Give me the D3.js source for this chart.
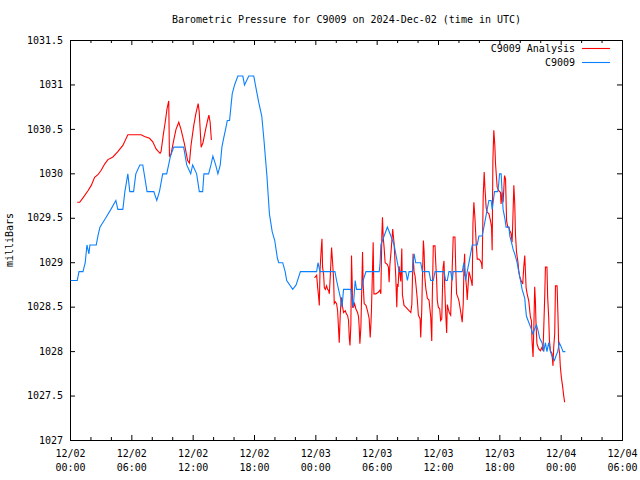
<!DOCTYPE html>
<html><head><meta charset="utf-8">
<script src="https://cdn.jsdelivr.net/npm/d3@7"></script>
<style>
body{margin:0;background:#fff}
svg{display:block}
text{font-family:"DejaVu Sans Mono",monospace;font-size:10px;fill:#000}
</style>
</head><body><svg id="c" width="640" height="480"></svg>
<script>
const chartTitle = "Barometric Pressure for C9009 on 2024-Dec-02 (time in UTC)";
const yAxisLabel = "milliBars";
const seriesNames = ["C9009 Analysis", "C9009"];
const seriesColors = ["#ff0000", "#0a80ff"];
const startTime = Date.UTC(2024, 11, 2, 0, 0);
const xHoursDomain = [0, 54];
const majorTickHours = [0, 6, 12, 18, 24, 30, 36, 42, 48, 54];
const yTickValues = [1027, 1027.5, 1028, 1028.5, 1029, 1029.5, 1030, 1030.5, 1031, 1031.5];

// [hours since 12/02 00:00 UTC, millibars]
const observed = [
[0,1028.8],[0.66,1028.8],[0.83,1028.9],[1.22,1028.9],[1.44,1029.0],[1.61,1029.2],[1.80,1029.1],[1.90,1029.2],
[2.52,1029.2],[2.68,1029.3],[2.88,1029.4],[3.43,1029.5],[3.95,1029.6],[4.44,1029.7],[4.63,1029.6],[5.12,1029.6],
[5.32,1029.8],[5.61,1030.0],[5.80,1029.8],[6.17,1029.8],[6.39,1030.0],[6.78,1030.1],[7.07,1030.1],[7.49,1029.8],
[8.15,1029.8],[8.44,1029.7],[8.70,1029.8],[9.02,1030.0],[9.41,1030.0],[9.78,1030.2],[10.10,1030.3],[11.07,1030.3],
[11.37,1030.1],[11.76,1030.0],[11.95,1030.1],[12.34,1030.0],[12.60,1029.8],[12.93,1029.8],[13.05,1030.0],[13.51,1030.0],
[13.74,1030.1],[13.93,1030.2],[14.20,1030.1],[14.42,1030.0],[14.65,1030.1],[14.81,1030.3],[14.98,1030.4],[15.17,1030.5],
[15.34,1030.6],[15.56,1030.6],[15.69,1030.75],[15.82,1030.9],[16.05,1031.0],[16.37,1031.1],[16.86,1031.1],[17.02,1031.0],
[17.44,1031.1],[17.93,1031.1],[18.17,1030.95],[18.42,1030.8],[18.71,1030.65],[18.91,1030.4],[19.20,1030.0],[19.46,1029.55],
[19.73,1029.35],[19.98,1029.25],[20.24,1029.05],[20.37,1029.0],[20.76,1029.0],[21.00,1028.9],[21.15,1028.8],[21.74,1028.7],
[22.07,1028.75],[22.49,1028.9],[24.08,1028.9],[24.21,1029.0],[24.41,1028.9],[25.87,1028.9],[26.03,1028.8],[26.22,1028.7],
[26.42,1028.6],[26.56,1028.5],[26.71,1028.7],[27.43,1028.7],[27.53,1028.6],[27.66,1028.5],[27.85,1028.8],[27.98,1028.7],
[28.47,1028.7],[28.63,1028.8],[28.90,1028.9],[30.20,1028.9],[30.29,1029.0],[30.36,1029.2],[30.68,1029.3],[31.00,1029.4],
[31.34,1029.3],[31.66,1029.2],[31.82,1029.1],[31.98,1029.0],[32.15,1028.9],[32.80,1028.9],[32.96,1028.8],[33.12,1028.9],
[33.44,1028.9],[33.61,1029.1],[33.77,1029.0],[33.93,1029.0],[34.26,1029.0],[34.42,1028.9],[35.07,1028.9],[35.24,1028.8],
[35.49,1028.8],[35.66,1028.9],[36.54,1028.9],[36.70,1028.8],[36.86,1028.8],[37.02,1028.9],[37.19,1028.9],[37.35,1028.8],
[37.44,1028.9],[38.32,1028.9],[38.49,1029.0],[38.59,1028.9],[38.65,1028.8],[38.81,1028.9],[38.98,1029.0],[39.14,1029.1],
[39.30,1029.2],[39.79,1029.2],[39.95,1029.3],[40.27,1029.3],[40.44,1029.4],[40.60,1029.5],[40.76,1029.6],[40.93,1029.7],
[41.15,1029.7],[41.25,1029.6],[41.37,1029.7],[41.48,1029.8],[41.80,1029.8],[41.90,1029.9],[41.97,1030.0],[42.13,1030.0],
[42.22,1029.8],[42.32,1029.6],[42.49,1029.5],[42.61,1029.4],[42.88,1029.4],[42.98,1029.3],[43.20,1029.2],[43.30,1029.15],
[43.46,1029.1],[43.69,1029.0],[43.85,1028.9],[44.02,1028.8],[44.18,1028.7],[44.44,1028.6],[44.51,1028.5],[44.60,1028.4],
[44.76,1028.35],[44.93,1028.3],[45.09,1028.25],[45.22,1028.2],[45.39,1028.25],[45.58,1028.3],[45.71,1028.25],[45.90,1028.15],
[46.13,1028.1],[46.29,1028.0],[46.46,1028.1],[46.61,1028.0],[46.78,1028.1],[46.95,1028.0],[47.10,1027.95],[47.34,1027.9],
[47.49,1027.95],[47.66,1028.0],[47.82,1028.1],[48.02,1028.05],[48.18,1028.0],[48.41,1028.0]
];

const analysisDay1 = [
[0.66,1029.68],[0.90,1029.68],[1.22,1029.73],[1.71,1029.81],[2.03,1029.87],[2.36,1029.96],[2.68,1029.99],[3.00,1030.04],
[3.34,1030.11],[3.66,1030.16],[4.15,1030.19],[4.63,1030.25],[5.12,1030.32],[5.61,1030.44],[6.91,1030.44],[7.24,1030.42],
[7.73,1030.40],[8.05,1030.36],[8.37,1030.28],[8.76,1030.23],[8.86,1030.25],[9.09,1030.45],[9.29,1030.60],[9.44,1030.73],
[9.61,1030.82],[9.68,1030.20],[9.83,1030.22],[10.10,1030.38],[10.32,1030.50],[10.59,1030.58],[10.81,1030.50],[11.14,1030.34],
[11.46,1030.15],[11.63,1030.12],[11.79,1030.32],[12.05,1030.54],[12.27,1030.68],[12.49,1030.79],[12.59,1030.70],[12.78,1030.30],
[12.96,1030.35],[13.22,1030.50],[13.41,1030.60],[13.54,1030.66],[13.66,1030.58],[13.78,1030.38]
];

const analysisDay2 = [
[23.88,1028.83],[24.08,1028.86],[24.18,1028.72],[24.27,1028.62],[24.34,1028.52],[24.41,1028.92],[24.50,1029.10],[24.60,1029.27],
[24.66,1028.95],[24.76,1028.87],[24.83,1028.72],[24.93,1028.70],[25.05,1028.74],[25.15,1028.70],[25.25,1028.69],[25.32,1028.65],
[25.41,1028.84],[25.48,1029.02],[25.54,1029.17],[25.64,1029.00],[25.74,1028.82],[25.80,1028.54],[25.90,1028.56],[26.03,1028.54],
[26.13,1028.46],[26.22,1028.26],[26.29,1028.10],[26.39,1028.42],[26.49,1028.61],[26.56,1028.57],[26.61,1028.51],[26.71,1028.44],
[26.88,1028.46],[27.00,1028.42],[27.10,1028.41],[27.20,1028.35],[27.27,1028.16],[27.34,1028.07],[27.43,1028.31],[27.49,1029.08],
[27.56,1028.76],[27.59,1028.50],[27.69,1028.50],[27.79,1028.54],[27.92,1028.48],[28.08,1028.44],[28.18,1028.39],[28.24,1028.28],
[28.31,1028.09],[28.41,1028.28],[28.51,1028.80],[28.57,1029.12],[28.63,1028.76],[28.73,1028.54],[28.90,1028.52],[29.05,1028.46],
[29.22,1028.37],[29.32,1028.16],[29.39,1028.31],[29.44,1028.46],[29.54,1028.91],[29.61,1029.23],[29.68,1028.65],[29.87,1028.65],
[30.13,1028.67],[30.26,1028.69],[30.36,1028.65],[30.46,1029.32],[30.52,1029.51],[30.59,1029.29],[30.68,1029.17],[30.78,1029.00],
[31.00,1028.98],[31.10,1028.95],[31.17,1028.78],[31.24,1028.97],[31.34,1029.10],[31.44,1029.25],[31.52,1029.38],[31.66,1029.21],
[31.82,1028.84],[31.92,1028.50],[31.98,1028.75],[32.05,1028.74],[32.15,1028.96],[32.31,1028.79],[32.41,1029.16],[32.47,1028.64],
[32.63,1028.52],[32.80,1028.50],[32.96,1028.48],[33.12,1028.46],[33.29,1028.44],[33.39,1028.53],[33.44,1028.76],[33.51,1029.10],
[33.61,1028.90],[33.71,1028.85],[33.77,1028.78],[33.87,1028.66],[33.93,1028.58],[34.03,1028.41],[34.20,1028.37],[34.26,1028.16],
[34.36,1028.46],[34.42,1028.80],[34.52,1029.25],[34.59,1029.13],[34.66,1028.84],[34.76,1028.71],[34.91,1028.60],[35.07,1028.58],
[35.24,1028.39],[35.34,1028.12],[35.39,1028.58],[35.49,1029.19],[35.66,1029.19],[35.72,1029.02],[35.82,1028.80],[35.88,1028.58],
[35.98,1028.50],[36.12,1028.48],[36.21,1028.35],[36.32,1028.37],[36.44,1028.94],[36.54,1029.02],[36.60,1028.76],[36.70,1028.44],
[36.80,1028.21],[36.86,1028.53],[36.96,1028.48],[37.05,1028.44],[37.19,1028.41],[37.35,1028.97],[37.44,1029.29],[37.61,1029.29],
[37.68,1028.97],[37.77,1028.65],[37.90,1028.61],[38.00,1028.57],[38.10,1028.50],[38.22,1028.41],[38.32,1028.33],[38.42,1028.54],
[38.49,1028.95],[38.56,1029.10],[38.59,1028.86],[38.65,1028.84],[38.75,1028.71],[38.81,1028.58],[38.98,1028.90],[39.07,1028.86],
[39.20,1028.80],[39.30,1028.74],[39.37,1029.44],[39.46,1029.68],[39.56,1029.51],[39.69,1029.21],[39.79,1029.04],[39.95,1029.04],
[40.11,1029.02],[40.21,1028.99],[40.27,1028.93],[40.37,1029.74],[40.47,1030.02],[40.54,1029.85],[40.66,1029.62],[40.76,1029.57],
[40.93,1029.55],[41.09,1029.47],[41.19,1029.40],[41.25,1029.14],[41.32,1030.15],[41.41,1030.49],[41.51,1030.32],[41.58,1030.11],
[41.74,1029.85],[41.90,1029.81],[42.07,1029.79],[42.12,1029.66],[42.22,1029.79],[42.32,1029.68],[42.46,1029.98],[42.56,1029.94],
[42.66,1029.47],[42.78,1029.40],[42.88,1029.40],[42.98,1029.36],[43.10,1029.33],[43.20,1029.23],[43.27,1029.47],[43.37,1029.87],
[43.46,1029.66],[43.53,1029.32],[43.63,1029.12],[43.76,1029.02],[43.85,1028.91],[43.95,1028.84],[44.08,1028.80],[44.24,1028.76],
[44.34,1028.95],[44.44,1029.08],[44.50,1028.91],[44.57,1028.72],[44.67,1028.65],[44.83,1028.57],[44.99,1028.39],[45.09,1028.35],
[45.15,1028.12],[45.25,1027.94],[45.32,1028.24],[45.41,1028.73],[45.48,1028.57],[45.54,1028.31],[45.63,1028.09],[45.80,1028.03],
[45.97,1028.01],[46.13,1028.05],[46.22,1028.01],[46.29,1028.24],[46.39,1028.61],[46.46,1028.95],[46.61,1028.95],[46.68,1028.61],
[46.78,1028.39],[46.85,1028.13],[46.95,1028.01],[47.10,1027.98],[47.20,1027.84],[47.27,1028.05],[47.37,1028.20],[47.44,1028.74],
[47.60,1028.74],[47.70,1028.35],[47.76,1028.05],[47.85,1027.98],[47.92,1027.83],[48.02,1027.71],[48.15,1027.60],[48.24,1027.51],
[48.34,1027.43]
];

const svg = d3.select("#c");
const L = 70, R = 622, T = 40, B = 440;
const hourMs = 3600e3;
const toDate = h => new Date(startTime + h * hourMs);

const x = d3.scaleUtc().domain(xHoursDomain.map(toDate)).range([L, R]);
const y = d3.scaleLinear().domain([yTickValues[0], yTickValues[yTickValues.length - 1]]).range([B, T]);

const majorTicks = majorTickHours.map(toDate);
const minorTicks = d3.range(xHoursDomain[0], xHoursDomain[1] + 1, 2).filter(h => h % 6 !== 0).map(toDate);

const fmtDay = d3.utcFormat("%m/%d");
const fmtTime = d3.utcFormat("%H:%M");

// title
svg.append("text").attr("x", (L + R) / 2 + 0.5).attr("y", 23).attr("text-anchor", "middle").text(chartTitle);

// y label
svg.append("text").attr("transform", `translate(13,${(T + B) / 2}) rotate(-90)`).attr("text-anchor", "middle").text(yAxisLabel);

function clean(g) { g.select(".domain").remove(); g.attr("font-family", null).attr("font-size", null); }

// bottom axis (major, labeled)
const gb = svg.append("g").attr("transform", `translate(0,${B})`)
  .call(d3.axisBottom(x).tickValues(majorTicks).tickSizeInner(-5).tickSizeOuter(0).tickPadding(0).tickFormat(fmtDay));
clean(gb);
gb.selectAll(".tick text").each(function(d) {
  const t = d3.select(this);
  t.text(null).attr("y", null).attr("dy", null);
  t.append("tspan").attr("x", 0).attr("y", 17).text(fmtDay(d));
  t.append("tspan").attr("x", 0).attr("y", 31).text(fmtTime(d));
});
// bottom minor
clean(svg.append("g").attr("transform", `translate(0,${B})`)
  .call(d3.axisBottom(x).tickValues(minorTicks).tickSizeInner(-3).tickSizeOuter(0).tickFormat("")));
// top major + minor
clean(svg.append("g").attr("transform", `translate(0,${T})`)
  .call(d3.axisTop(x).tickValues(majorTicks).tickSizeInner(-5).tickSizeOuter(0).tickFormat("")));
clean(svg.append("g").attr("transform", `translate(0,${T})`)
  .call(d3.axisTop(x).tickValues(minorTicks).tickSizeInner(-3).tickSizeOuter(0).tickFormat("")));
// left axis
const gl = svg.append("g").attr("transform", `translate(${L},0)`)
  .call(d3.axisLeft(y).tickValues(yTickValues).tickSizeInner(-5).tickSizeOuter(0).tickPadding(7).tickFormat(d3.format("")));
clean(gl);
// right axis
clean(svg.append("g").attr("transform", `translate(${R},0)`)
  .call(d3.axisRight(y).tickValues(yTickValues).tickSizeInner(-5).tickSizeOuter(0).tickFormat("")));

// frame
svg.append("rect").attr("x", L + 0.5).attr("y", T + 0.5).attr("width", R - L).attr("height", B - T)
  .attr("fill", "none").attr("stroke", "#000").attr("stroke-width", 1);

// series
const line = d3.line().x(d => x(toDate(d[0])) + 0.5).y(d => y(d[1]) + 0.5);
[analysisDay1, analysisDay2].forEach(s => {
  svg.append("path").datum(s).attr("d", line).attr("fill", "none").attr("stroke", seriesColors[0]).attr("stroke-width", 1.1);
});
svg.append("path").datum(observed).attr("d", line).attr("fill", "none").attr("stroke", seriesColors[1]).attr("stroke-width", 1.1);

// legend
const legendRows = [0, 1];
const lg = svg.append("g");
legendRows.forEach(i => {
  const yy = 48.5 + i * 14;
  lg.append("text").attr("x", 575).attr("y", yy + 3.5).attr("text-anchor", "end").text(seriesNames[i]);
  lg.append("line").attr("x1", 582).attr("x2", 610).attr("y1", yy).attr("y2", yy)
    .attr("stroke", seriesColors[i]).attr("stroke-width", 1.1);
});
</script>
</body></html>
